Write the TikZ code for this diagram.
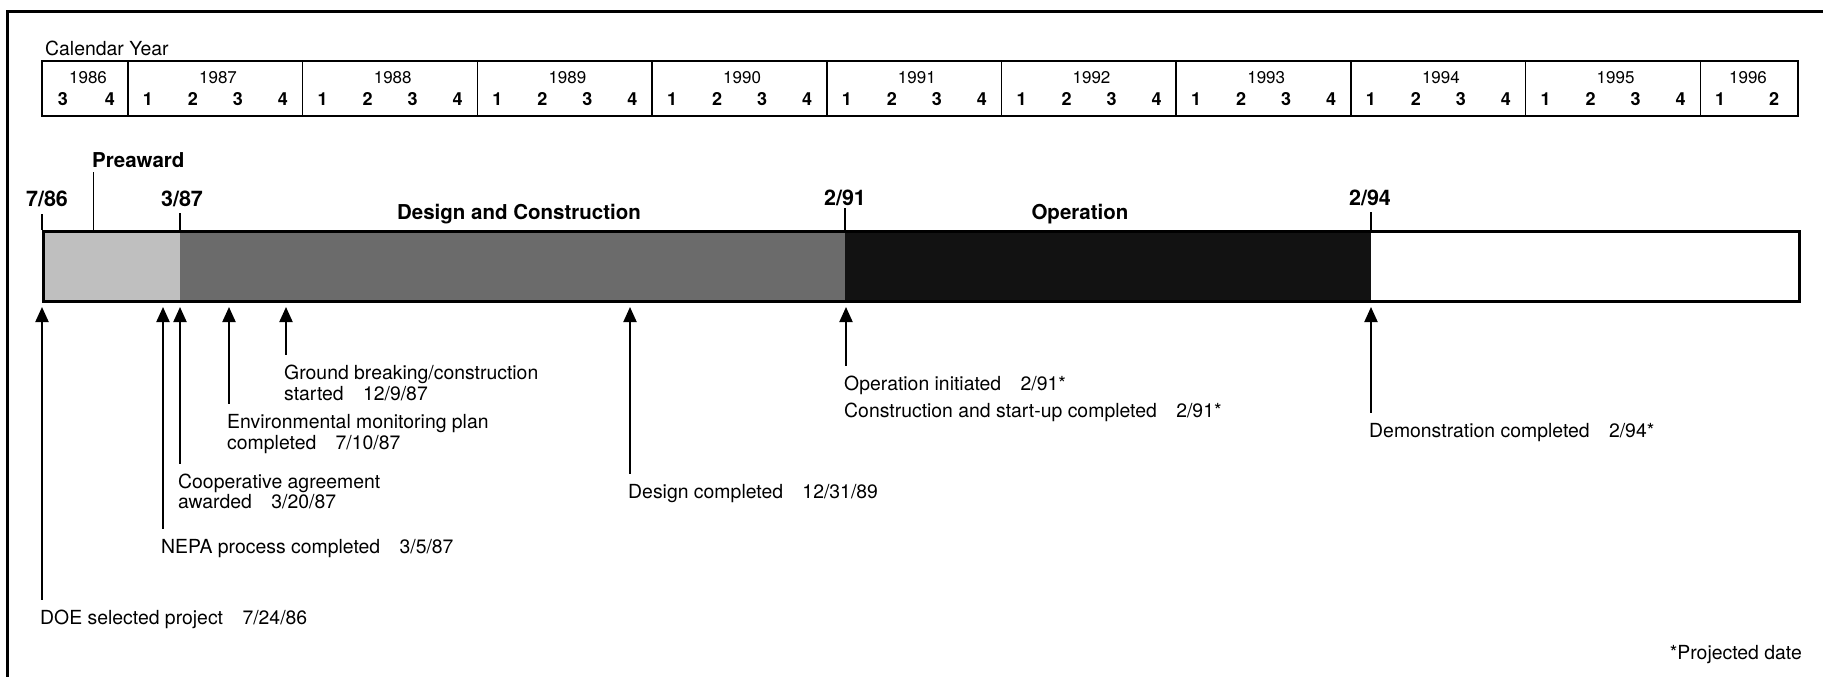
\documentclass[tikz,border=0pt]{standalone}
\usepackage{fontspec}
\setmainfont{TeX Gyre Heros}
\usetikzlibrary{arrows.meta,calc}
\begin{document}
\begin{tikzpicture}[x=1pt,y=-1pt,
  txt/.style={font=\fontsize{19.4}{21}\selectfont, inner sep=0pt, text height=14pt, text depth=0pt, anchor=west},
  datelbl/.style={font=\fontsize{21.5}{23}\selectfont\bfseries, inner sep=0pt, text height=15.5pt, text depth=0pt},
  phase/.style={font=\fontsize{20.5}{22}\selectfont\bfseries, inner sep=0pt, text height=14.7pt, text depth=0pt},
  yearlbl/.style={font=\fontsize{17}{19}\selectfont, inner sep=0pt, text height=12pt, text depth=0pt},
  qlbl/.style={font=\fontsize{18}{20}\selectfont\bfseries, inner sep=0pt, text height=13pt, text depth=0pt},
  tick/.style={line width=1.5pt},
  arr/.style={line width=2pt, -{Triangle[length=15pt,width=13pt]}, shorten >=4pt}
]
\useasboundingbox (0,0) rectangle (1823,677);
% frame
\draw[line width=3pt] (7,677) -- (7,12) -- (1823,12);
% calendar header
\node[txt] (cal) at (45,49) {Calendar Year};
\draw[line width=2pt] (41.7,61) rectangle (1798,116);
\foreach \i in {0,...,9}{
  \draw[line width=1.5pt] ({128+174.7*\i},61) -- ({128+174.7*\i},116);
}
\node[yearlbl] (y1986) at (88,78) {1986};
\node[qlbl] (q86c) at (63,99) {3};
\node[qlbl] (q86d) at (110,99) {4};
\foreach \i in {0,...,8}{
  \pgfmathtruncatemacro{\yr}{1987+\i}
  \node[yearlbl] (y\yr) at ({128+174.7*\i+90},78) {\yr};
  \foreach \q in {1,2,3,4}{
    \node[qlbl] (q\yr\q) at ({128+174.7*\i+20+45*(\q-1)},99) {\q};
  }
}
\node[yearlbl] (y1996) at (1748,78) {1996};
\node[qlbl] (q96a) at (1720,99) {1};
\node[qlbl] (q96b) at (1774,99) {2};
% bar
\fill[black!25] (42,230) rectangle (180,300);
\fill[black!58] (180,230) rectangle (845,300);
\fill[black!93] (845,230) rectangle (1371,300);
\node[draw, line width=3pt, anchor=north west, minimum width=1756pt, minimum height=70pt, inner sep=0pt] (bar) at (42,230) {};
% ticks above bar
\draw[tick] (42,214) -- (42,230);
\draw[tick] (93.7,172) -- (93.7,230);
\draw[tick] (180,213) -- (180,230);
\draw[tick] (845,208) -- (845,230);
\draw[tick] (1371,212) -- (1371,230);
% date and phase labels
\node[datelbl] (d786) at (47,199) {7/86};
\node[datelbl] (d387) at (182,199) {3/87};
\node[datelbl] (d291) at (845,198) {2/91};
\node[datelbl] (d294) at (1370,198) {2/94};
\node[phase, anchor=west] (pre) at (92,160) {Preaward};
\node[phase] (dc) at (519,212) {Design and Construction};
\node[phase] (op) at (1080,212) {Operation};
% milestones
\node[txt] (doe) at (40,617) {DOE selected project\quad 7/24/86};
\node[txt] (nepa) at (161,546) {NEPA process completed\quad 3/5/87};
\node[txt] (coop) at (178,481) {Cooperative agreement};
\node[txt] (coopb) at (178,501) {awarded\quad 3/20/87};
\node[txt] (env) at (227,421) {Environmental monitoring plan};
\node[txt] (envb) at (227,442) {completed\quad 7/10/87};
\node[txt] (gb) at (284,372) {Ground breaking/construction};
\node[txt] (gbb) at (284,393) {started\quad 12/9/87};
\node[txt] (des) at (628,491) {Design completed\quad 12/31/89};
\node[txt] (opi) at (844,383) {Operation initiated\quad 2/91*};
\node[txt] (csu) at (844,410) {Construction and start-up completed\quad 2/91*};
\node[txt] (demo) at (1369,430) {Demonstration completed\quad 2/94*};
\node[txt, anchor=east] (proj) at (1802,652) {*Projected date};
% arrows
\foreach \n in {doe,nepa,coop,env,gb,des,opi,demo}{
  \path ([xshift=2pt]\n.north west) coordinate (\n A);
  \draw[arr] ([yshift=10pt]\n A) -- (\n A |- bar.south);
}
\end{tikzpicture}
\end{document}
